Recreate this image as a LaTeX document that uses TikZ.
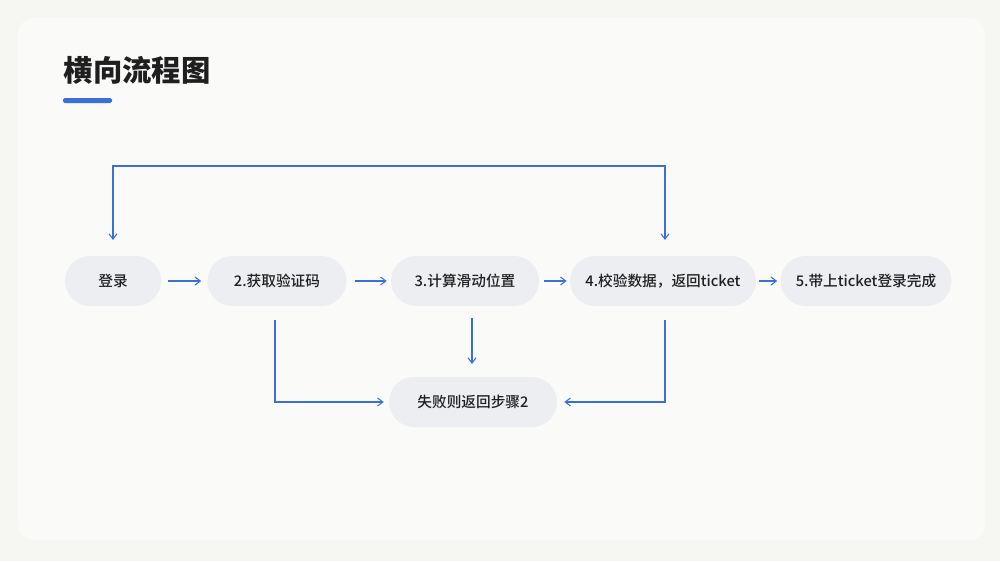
\documentclass[tikz,border=0pt]{standalone}
\usepackage{fontspec}
\setmainfont{Noto Sans CJK SC}
\newfontfamily\midfont{Noto Sans CJK SC Medium}
\usetikzlibrary{arrows.meta}
\definecolor{flowblue}{HTML}{3A6FD8}
\definecolor{boxfill}{HTML}{EDEEF2}
\definecolor{inkgray}{HTML}{1F1F1F}
\tikzset{
  stepbox/.style={rounded corners=25*0.75pt, fill=boxfill, text=inkgray, minimum height=50*0.75pt, inner sep=0pt, font=\midfont\fontsize{11}{13}\selectfont},
  flow/.style={draw=flowblue, line width=0.8pt, -{Straight Barb[length=4pt,width=6pt]}},
}
\begin{document}
\begin{tikzpicture}[x=0.75pt,y=-0.75pt]
  % background
  \fill[color={rgb,255:red,246;green,246;blue,243}] (0,0) rectangle (1000,561);
  \fill[color={rgb,255:red,250;green,250;blue,249}, rounded corners=12pt] (18,18) rectangle (985,540);
  % title
  \node[anchor=west, font=\fontsize{22}{25}\selectfont\bfseries, text=inkgray] (title) at (59,70) {横向流程图};
  \fill[flowblue, rounded corners=1.2pt] (63,98) rectangle (112,103);
  % steps
  \node[stepbox, minimum width=96*0.75pt] (login) at (113,281) {登录};
  \node[stepbox, minimum width=139*0.75pt] (fetch) at (277,281) {2.获取验证码};
  \node[stepbox, minimum width=148*0.75pt] (calc) at (465,281) {3.计算滑动位置};
  \node[stepbox, minimum width=186*0.75pt] (check) at (663,281) {4.校验数据，返回ticket};
  \node[stepbox, minimum width=171*0.75pt] (done) at (866,281) {5.带上ticket登录完成};
  \node[stepbox, minimum width=168*0.75pt] (fail) at (473,402) {失败则返回步骤2};
  % main line
  \draw[flow, shorten <=7*0.75pt, shorten >=6*0.75pt] (login) -- (fetch);
  \draw[flow, shorten <=8*0.75pt, shorten >=4*0.75pt] (fetch) -- (calc);
  \draw[flow, shorten <=5*0.75pt, shorten >=3*0.75pt] (calc) -- (check);
  \draw[flow, shorten <=3*0.75pt, shorten >=3*0.75pt] (check) -- (done);
  % loop back on top
  \coordinate (loopL) at (113,166);
  \coordinate (loopR) at (665,166);
  \draw[flow, {Straight Barb[length=4pt,width=6pt]}-{Straight Barb[length=4pt,width=6pt]}] (113,240) -- (loopL) -- (loopR) -- (665,240);
  % failure branches
  \draw[flow] (275,320) |- ([xshift=-5*0.75pt]fail.west);
  \draw[flow] (472,318) -- (472,364);
  \draw[flow] (665,320) |- ([xshift=7*0.75pt]fail.east);
\end{tikzpicture}
\end{document}
